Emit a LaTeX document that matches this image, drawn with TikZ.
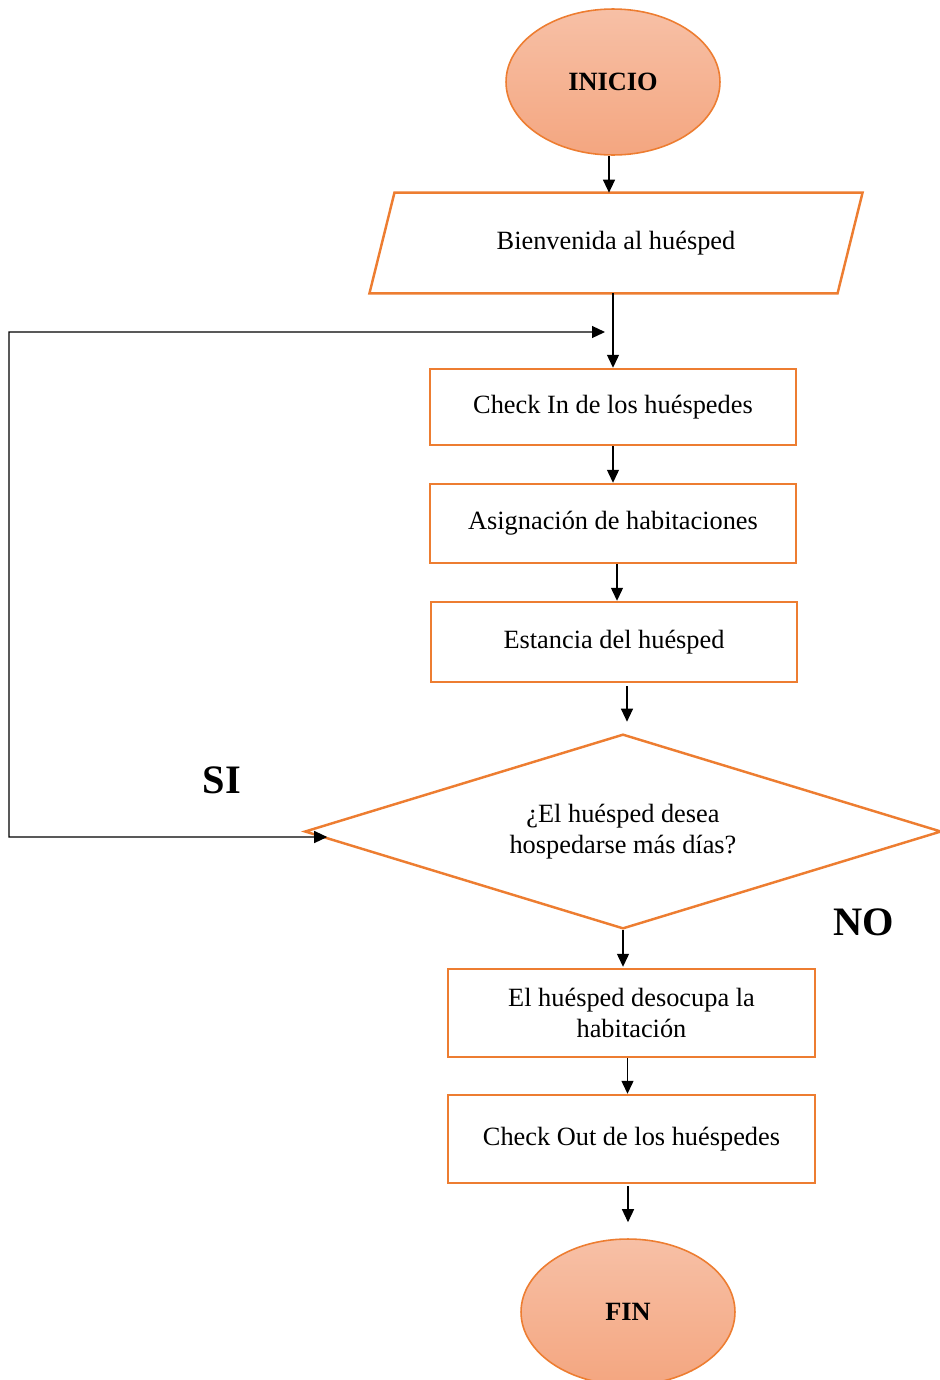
\documentclass[tikz,border=0pt]{standalone}
\usepackage{fontspec}
\setmainfont{Liberation Serif}
\usetikzlibrary{shapes.geometric, arrows.meta}
\definecolor{naranja}{HTML}{ED7D31}
\definecolor{salmonA}{HTML}{F7C0A6}
\definecolor{salmonB}{HTML}{F4A680}

\begin{document}
\begin{tikzpicture}[x=0.02cm, y=-0.02cm,
    font=\fontsize{15}{17.5}\selectfont,
    proceso/.style={draw=naranja, line width=1.4pt, rectangle, inner sep=0pt,
      minimum width=7.32cm, align=center},
    terminal/.style={draw=naranja, line width=0.9pt, ellipse, inner sep=0pt,
      minimum width=4.28cm, minimum height=2.92cm,
      top color=salmonA, bottom color=salmonB, font=\fontsize{15}{17.5}\selectfont\bfseries},
    borde/.style={draw=naranja, line width=1.4pt},
    flecha/.style={line width=0.7pt, -{Triangle[length=0.26cm, width=0.24cm]}},
    rama/.style={font=\fontsize{23}{27}\selectfont\bfseries},
  ]
  \useasboundingbox (0,0) rectangle (940,1380);

  \node[terminal] (inicio) at (613, 82) {INICIO};
  \node[minimum width=9.35cm, minimum height=2cm, inner sep=0pt] (bienv) at (616, 243) {Bienvenida al huésped};
  \draw[borde]
    ([xshift=-0.25cm]bienv.south west) -- ([xshift=0.25cm]bienv.north west) --
    ([xshift=0.25cm]bienv.north east) -- ([xshift=-0.25cm]bienv.south east) -- cycle;
  \node[proceso, minimum height=1.52cm] (checkin) at (613, 407) {Check In de los huéspedes};
  \node[proceso, minimum height=1.58cm] (asign) at (613, 523.5) {Asignación de habitaciones};
  \node[proceso, minimum height=1.6cm] (estancia) at (614, 642) {Estancia del huésped};
  \node[minimum width=12.7cm, minimum height=3.86cm, inner sep=0pt, align=center] (decision) at (623, 831.5) {¿El huésped desea\\hospedarse más días?};
  \draw[borde] (decision.north) -- (decision.east) -- (decision.south) -- (decision.west) -- cycle;
  \node[proceso, minimum width=7.34cm, minimum height=1.76cm] (desocupa) at (631.5, 1013) {El huésped desocupa la\\habitación};
  \node[proceso, minimum width=7.34cm, minimum height=1.76cm] (checkout) at (631.5, 1139) {Check Out de los huéspedes};
  \node[terminal] (fin) at (628, 1312) {FIN};

  \node[rama] (si) at (222, 780) {SI};
  \node[rama] (no) at (864, 922) {NO};

  \coordinate (esqA) at (9, 837);
  \coordinate (esqB) at (9, 332);
  \coordinate (llegada) at (605, 332);

  \draw[flecha] ([xshift=-0.08cm]inicio.south) -- ([xshift=-0.08cm]inicio.south |- bienv.north);
  \draw[flecha] (checkin.north |- bienv.south) -- (checkin.north);
  \draw[flecha] (checkin) -- (asign);
  \draw[flecha] ([xshift=0.08cm]asign.south) -- ([xshift=0.08cm]asign.south |- estancia.north);
  \draw[flecha, shorten <=0.06cm, shorten >=0.26cm] ([xshift=0.08cm]decision.north |- estancia.south) -- ([xshift=0.08cm]decision.north);
  \draw[flecha, shorten <=0.04cm, shorten >=0.02cm] (decision.south) -- (decision.south |- desocupa.north);
  \draw[flecha] ([xshift=-0.08cm]desocupa.south) -- ([xshift=-0.08cm]checkout.north);
  \draw[flecha, shorten <=0.04cm, shorten >=0.32cm] ([xshift=-0.07cm]checkout.south) -- ([xshift=-0.07cm]checkout.south |- fin.north);

  % retorno SI
  \draw[line width=0.7pt, {Triangle[length=0.26cm, width=0.24cm]}-{Triangle[length=0.26cm, width=0.24cm]}]
    ([xshift=0.44cm, yshift=-0.11cm]decision.west) -- (esqA) -- (esqB) -- (llegada);
\end{tikzpicture}
\end{document}
